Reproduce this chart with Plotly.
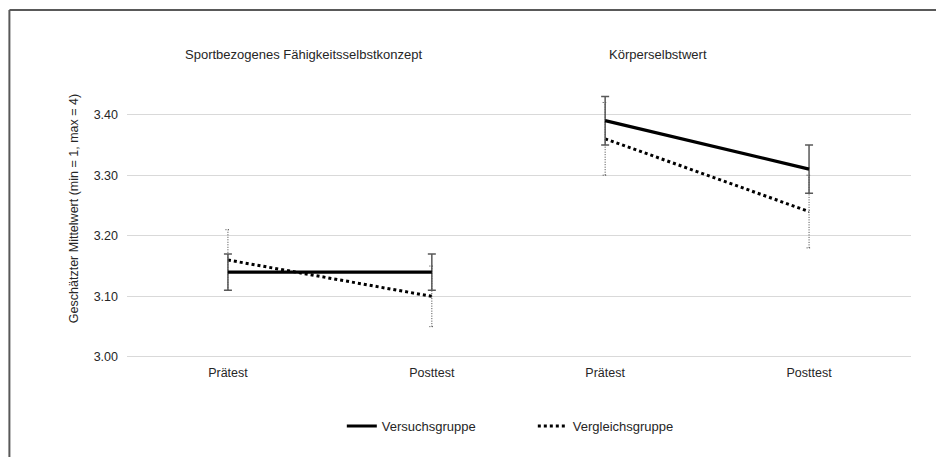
import plotly.graph_objects as go

# ---- data ----
panels = ["Sportbezogenes Fähigkeitsselbstkonzept", "Körperselbstwert"]
time_labels = ["Prätest", "Posttest", "Prätest", "Posttest"]
versuch_mean = [3.14, 3.14, 3.39, 3.31]
versuch_err = [0.03, 0.03, 0.04, 0.04]
vergleich_mean = [3.16, 3.10, 3.36, 3.24]
vergleich_err = [0.05, 0.05, 0.06, 0.06]
y_ticks = [3.00, 3.10, 3.20, 3.30, 3.40]

# ---- layout positions (axis units) ----
x_pos = [1.0, 2.0, 2.85, 3.85]
panel_title_x = [1.37, 3.11]
X_RANGE = [0.505, 4.35]
Y_RANGE = [2.99, 3.5]

FONT = "Liberation Sans, Arial, sans-serif"
TXT = "#262626"

fig = go.Figure()

# dotted error bars for Vergleichsgruppe (built from data)
cap = 0.012
ex, ey = [], []
for xv, m, e in zip(x_pos, vergleich_mean, vergleich_err):
    ex += [xv, xv, None, xv - cap, xv + cap, None, xv - cap, xv + cap, None]
    ey += [m - e, m + e, None, m + e, m + e, None, m - e, m - e, None]
fig.add_trace(go.Scatter(
    x=ex, y=ey, mode="lines", showlegend=False, hoverinfo="skip",
    line=dict(color="#404040", width=1, dash="1px,1.5px"),
))

# Vergleichsgruppe dotted line
fig.add_trace(go.Scatter(
    x=x_pos[:2], y=vergleich_mean[:2], mode="lines", name="Vergleichsgruppe",
    legendgroup="vg", legendrank=2,
    line=dict(color="black", width=3, dash="dot"),
))
fig.add_trace(go.Scatter(
    x=x_pos[2:], y=vergleich_mean[2:], mode="lines", name="Vergleichsgruppe",
    legendgroup="vg", showlegend=False,
    line=dict(color="black", width=3, dash="dot"),
))

# Versuchsgruppe solid line with error bars
for sl, show in [(slice(0, 2), True), (slice(2, 4), False)]:
    fig.add_trace(go.Scatter(
        x=x_pos[sl], y=versuch_mean[sl], mode="lines", name="Versuchsgruppe",
        legendgroup="vs", showlegend=show, legendrank=1,
        line=dict(color="black", width=3.2),
        error_y=dict(type="data", array=versuch_err[sl], visible=True,
                     color="#595959", thickness=1.5, width=4),
    ))

for px_, t in zip(panel_title_x, panels):
    fig.add_annotation(x=px_, y=1.0, xref="x", yref="paper", text=t,
                       showarrow=False, yanchor="middle",
                       font=dict(family=FONT, size=13, color=TXT))

# outer frame (top + left edges visible)
frame = dict(type="line", xref="paper", yref="paper",
             line=dict(color="#595959", width=2))
fig.add_shape(**frame, x0=-0.150, x1=1.1, y0=1.1424, y1=1.1424)
fig.add_shape(**frame, x0=-0.150, x1=-0.150, y0=1.1424, y1=-0.4)

fig.update_layout(
    width=944, height=457,
    margin=dict(l=119, r=41, t=46, b=102),
    paper_bgcolor="white", plot_bgcolor="white",
    font=dict(family=FONT, size=12.5, color=TXT),
    legend=dict(orientation="h", x=0.274, xanchor="left", y=-0.204,
                yanchor="middle", entrywidth=146, entrywidthmode="pixels",
                font=dict(family=FONT, size=13, color=TXT),
                traceorder="normal"),
    xaxis=dict(range=X_RANGE, tickmode="array", tickvals=x_pos,
               ticktext=time_labels, showgrid=False, zeroline=False,
               showline=False, ticks="", ticklabelstandoff=0),
    yaxis=dict(range=Y_RANGE, tickmode="array", tickvals=y_ticks,
               tickformat=".2f", showgrid=True, gridcolor="#d9d9d9",
               gridwidth=1, zeroline=False, showline=False, ticks="",
               ticklabelstandoff=8,
               title=dict(text="Geschätzter Mittelwert (min = 1, max = 4)",
                          standoff=12,
                          font=dict(family=FONT, size=12.5, color=TXT))),
)

fig.write_html("out.html")
